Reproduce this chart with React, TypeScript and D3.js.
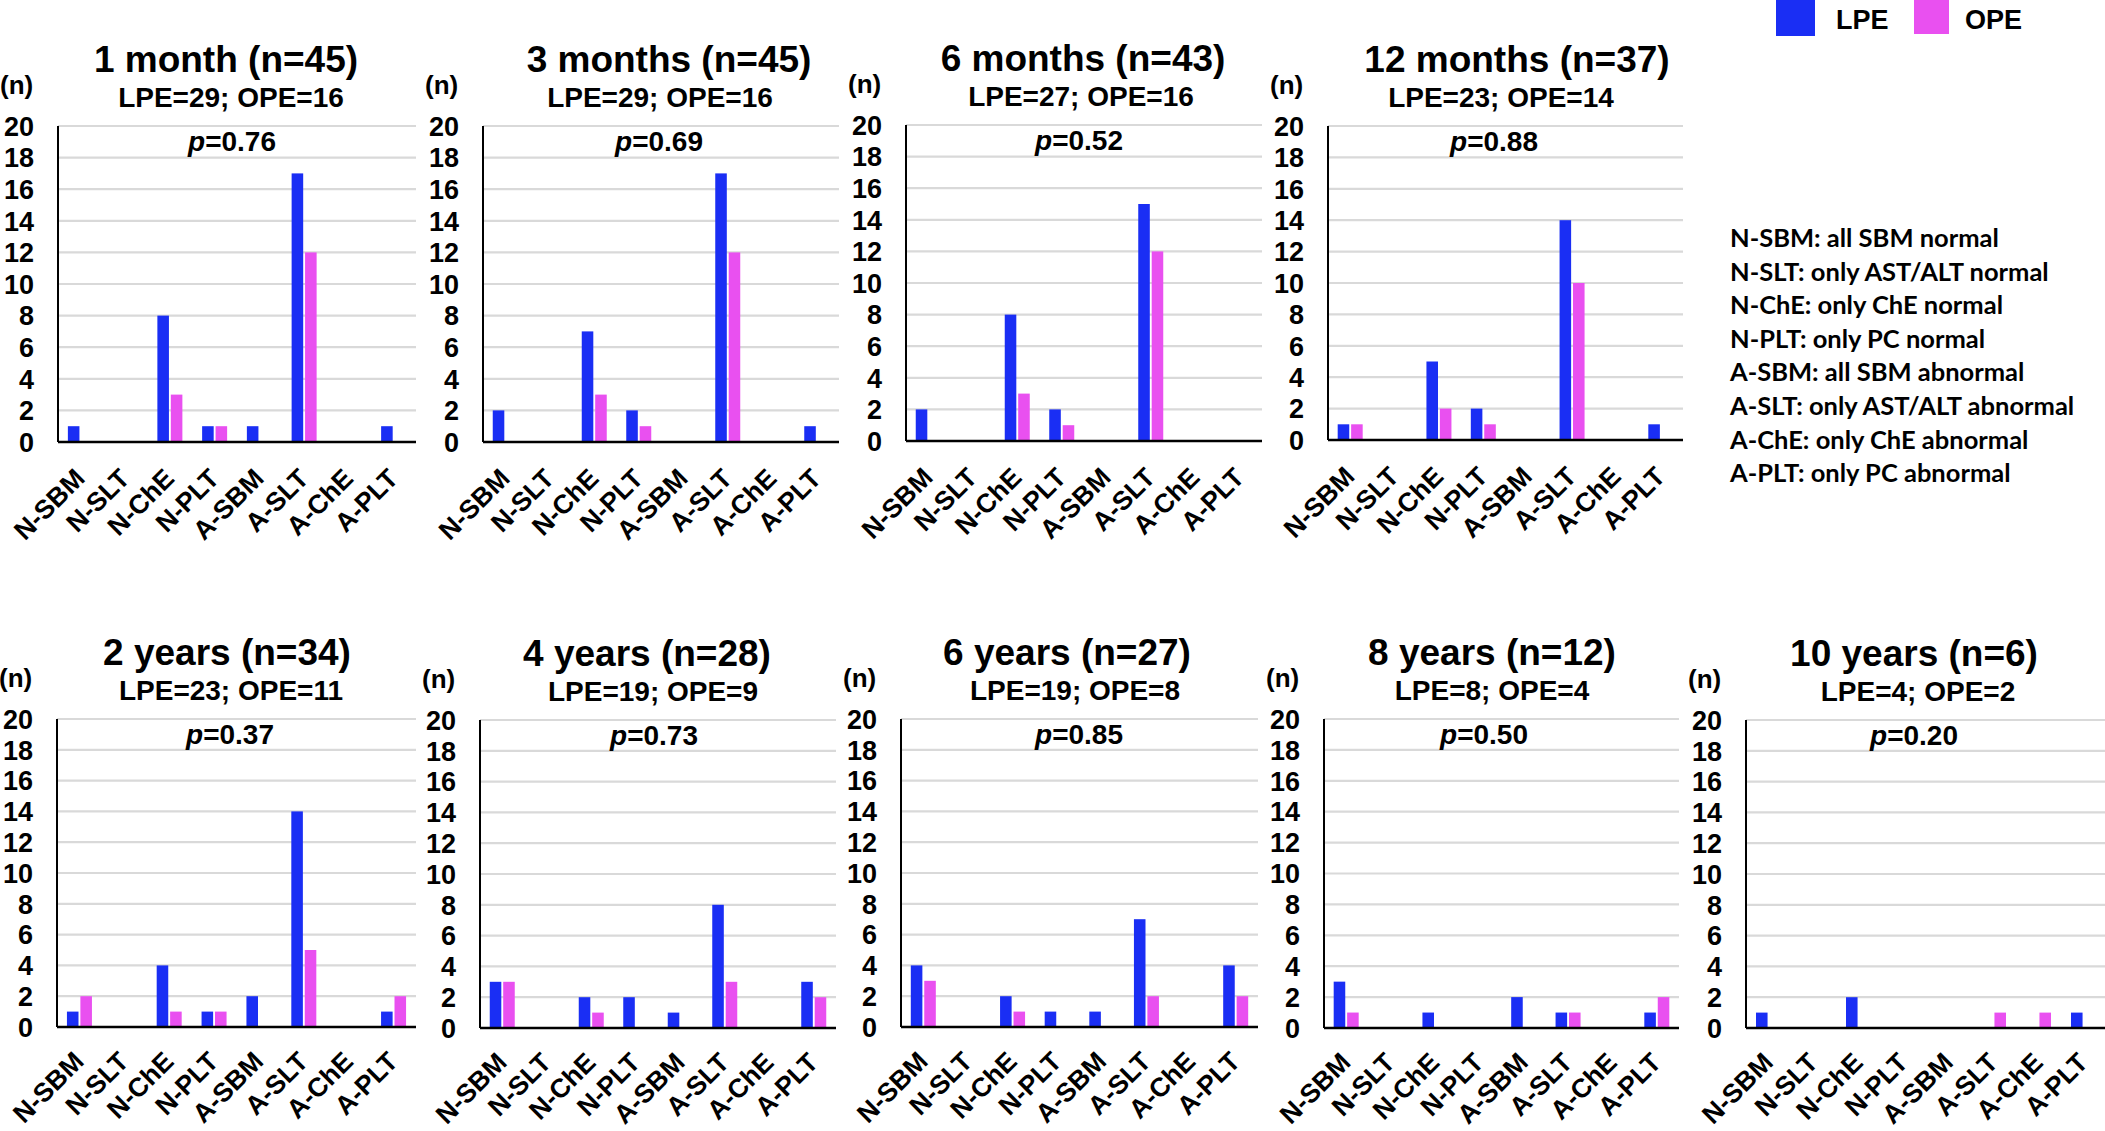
import React from 'react';
import * as d3 from 'd3';

const categories = ['N-SBM', 'N-SLT', 'N-ChE', 'N-PLT', 'A-SBM', 'A-SLT', 'A-ChE', 'A-PLT'];
const periods = ['1 month', '3 months', '6 months', '12 months', '2 years', '4 years', '6 years', '8 years', '10 years'];
const totalN = [45, 45, 43, 37, 34, 28, 27, 12, 6];
const lpeN = [29, 29, 27, 23, 23, 19, 19, 8, 4];
const opeN = [16, 16, 16, 14, 11, 9, 8, 4, 2];
const pValues = ['0.76', '0.69', '0.52', '0.88', '0.37', '0.73', '0.85', '0.50', '0.20'];

const lpe1m = [1, 0, 8, 1, 1, 17, 0, 1];
const ope1m = [0, 0, 3, 1, 0, 12, 0, 0];
const lpe3m = [2, 0, 7, 2, 0, 17, 0, 1];
const ope3m = [0, 0, 3, 1, 0, 12, 0, 0];
const lpe6m = [2, 0, 8, 2, 0, 15, 0, 0];
const ope6m = [0, 0, 3, 1, 0, 12, 0, 0];
const lpe12m = [1, 0, 5, 2, 0, 14, 0, 1];
const ope12m = [1, 0, 2, 1, 0, 10, 0, 0];
const lpe2y = [1, 0, 4, 1, 2, 14, 0, 1];
const ope2y = [2, 0, 1, 1, 0, 5, 0, 2];
const lpe4y = [3, 0, 2, 2, 1, 8, 0, 3];
const ope4y = [3, 0, 1, 0, 0, 3, 0, 2];
const lpe6y = [4, 0, 2, 1, 1, 7, 0, 4];
const ope6y = [3, 0, 1, 0, 0, 2, 0, 2];
const lpe8y = [3, 0, 1, 0, 2, 1, 0, 1];
const ope8y = [1, 0, 0, 0, 0, 1, 0, 2];
const lpe10y = [1, 0, 2, 0, 0, 0, 0, 1];
const ope10y = [0, 0, 0, 0, 0, 1, 1, 0];

const lpeSeries = [lpe1m, lpe3m, lpe6m, lpe12m, lpe2y, lpe4y, lpe6y, lpe8y, lpe10y];
const opeSeries = [ope1m, ope3m, ope6m, ope12m, ope2y, ope4y, ope6y, ope8y, ope10y];

const yTicks = [0, 2, 4, 6, 8, 10, 12, 14, 16, 18, 20];
const seriesNames = ['LPE', 'OPE'];

const definitions = [
  'N-SBM: all SBM normal',
  'N-SLT: only AST/ALT normal',
  'N-ChE: only ChE normal',
  'N-PLT: only PC normal',
  'A-SBM: all SBM abnormal',
  'A-SLT: only AST/ALT abnormal',
  'A-ChE: only ChE abnormal',
  'A-PLT: only PC abnormal',
];

// layout (pixels)
const W = 2105;
const H = 1131;
const COLORS = { LPE: '#1a2ef4', OPE: '#e950f0' };
const FONT = '"Liberation Sans", Arial, sans-serif';
const panelLayout = [
  { x: 58, top: 126, bottom: 442, w: 358, tx: 168, sx: 173, px: 174, ly: 38 },
  { x: 483, top: 126, bottom: 442, w: 356, tx: 186, sx: 177, px: 176, ly: 38 },
  { x: 906, top: 125, bottom: 441, w: 356, tx: 177, sx: 175, px: 173, ly: 38 },
  { x: 1328, top: 126, bottom: 440, w: 355, tx: 189, sx: 173, px: 166, ly: 38 },
  { x: 57, top: 719, bottom: 1027, w: 359, tx: 170, sx: 174, px: 173, ly: 36 },
  { x: 480, top: 720, bottom: 1028, w: 356, tx: 167, sx: 173, px: 174, ly: 36 },
  { x: 901, top: 719, bottom: 1027, w: 357, tx: 166, sx: 174, px: 178, ly: 36 },
  { x: 1324, top: 719, bottom: 1028, w: 355, tx: 168, sx: 168, px: 160, ly: 36 },
  { x: 1746, top: 720, bottom: 1028, w: 360, tx: 168, sx: 172, px: 168, ly: 36 },
];

function Panel({ i }: { i: number }) {
  const L = panelLayout[i];
  const x = d3.scaleBand<string>().domain(categories).range([L.x, L.x + L.w]);
  const inner = d3.scaleBand<string>().domain(seriesNames).range([-12.5, 12.5]).paddingInner(0.14);
  const y = d3.scaleLinear().domain([0, 20]).range([L.bottom, L.top]);
  const series = [lpeSeries[i], opeSeries[i]];
  return (
    <g>
      {yTicks.filter((t) => t > 0).map((t) => (
        <line key={'g' + t} x1={L.x} x2={L.x + L.w} y1={y(t)} y2={y(t)} stroke="#d9d9d9" strokeWidth={2.2} />
      ))}
      {yTicks.map((t) => (
        <text key={'t' + t} x={L.x - 24} y={y(t)} dy="0.36em" textAnchor="end" fontSize={27} fontWeight="bold" fontFamily={FONT} fill="#000">
          {t}
        </text>
      ))}
      {series.map((vals, si) =>
        vals.map((v, ci) =>
          v > 0 ? (
            <rect
              key={si + '-' + ci}
              x={(x(categories[ci]) as number) + x.bandwidth() / 2 + (inner(seriesNames[si]) as number)}
              width={inner.bandwidth()}
              y={y(v)}
              height={y(0) - y(v)}
              fill={COLORS[seriesNames[si] as 'LPE' | 'OPE']}
            />
          ) : null
        )
      )}
      <line x1={L.x} x2={L.x} y1={L.top} y2={L.bottom} stroke="#000" strokeWidth={2} />
      <line x1={L.x} x2={L.x + L.w} y1={L.bottom} y2={L.bottom} stroke="#000" strokeWidth={2.5} />
      {categories.map((c) => {
        const ax = (x(c) as number) + x.bandwidth() / 2 + 6;
        const ay = L.bottom + L.ly;
        return (
          <text key={'c' + c} transform={`translate(${ax},${ay}) rotate(-45)`} textAnchor="end" fontSize={26.5} fontWeight="bold" fontFamily={FONT} fill="#000">
            {c}
          </text>
        );
      })}
      <text x={L.x - 58} y={L.top - 32} fontSize={26} fontWeight="bold" fontFamily={FONT}>(n)</text>
      <text x={L.x + L.tx} y={L.top - 54} textAnchor="middle" fontSize={37} fontWeight="bold" fontFamily={FONT}>
        {`${periods[i]} (n=${totalN[i]})`}
      </text>
      <text x={L.x + L.sx} y={L.top - 19} textAnchor="middle" fontSize={28} fontWeight="bold" fontFamily={FONT}>
        {`LPE=${lpeN[i]}; OPE=${opeN[i]}`}
      </text>
      <text x={L.x + L.px} y={L.top + 25} textAnchor="middle" fontSize={28} fontWeight="bold" fontFamily={FONT}>
        <tspan fontStyle="italic">p</tspan>
        <tspan>{`=${pValues[i]}`}</tspan>
      </text>
    </g>
  );
}

export default function App() {
  return (
    <svg width={W} height={H} style={{ position: 'absolute', left: 0, top: 0, background: '#fff' }}>
      <rect x={0} y={0} width={W} height={H} fill="#fff" />
      {periods.map((_, i) => (
        <Panel key={i} i={i} />
      ))}
      {seriesNames.map((s, si) => (
        <g key={s}>
          <rect x={si === 0 ? 1776 : 1914} y={-1} width={si === 0 ? 39 : 35} height={si === 0 ? 37 : 35} fill={COLORS[s as 'LPE' | 'OPE']} />
          <text x={si === 0 ? 1836 : 1965} y={29} fontSize={27} fontWeight="bold" fontFamily={FONT}>
            {s}
          </text>
        </g>
      ))}
      {definitions.map((d, k) => (
        <text key={d} x={1730} y={247 + k * 33.6} fontSize={25.5} fontWeight="bold" fontFamily='Lato, "Open Sans", sans-serif' fill="#000">
          {d}
        </text>
      ))}
    </svg>
  );
}
